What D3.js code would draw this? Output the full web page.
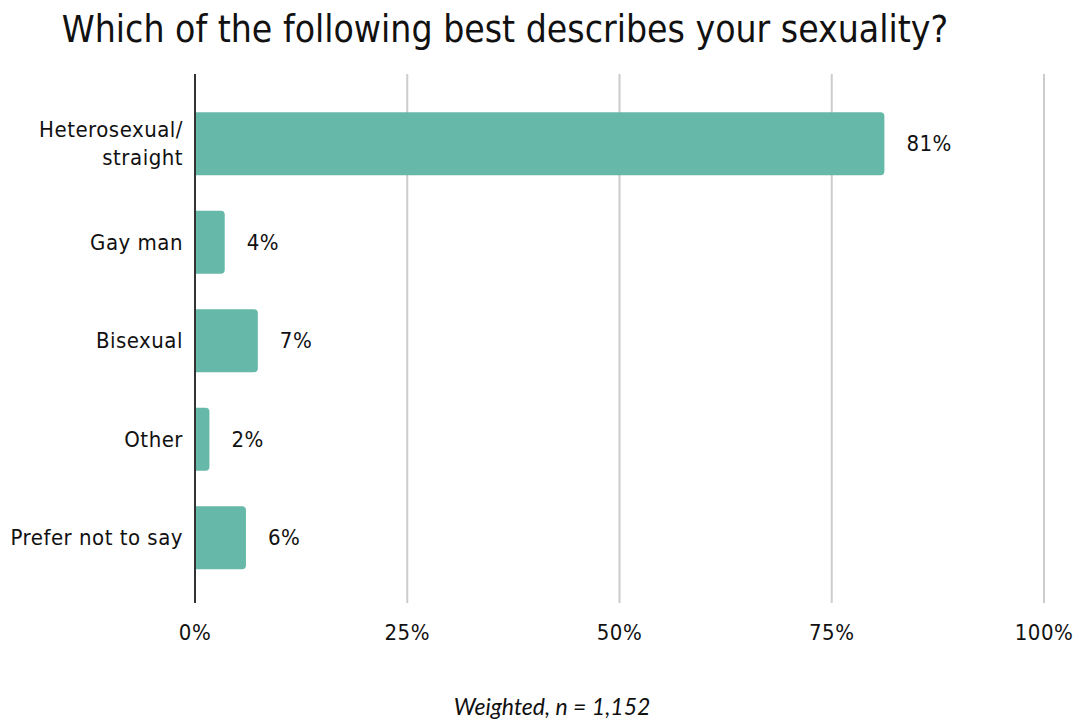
<!DOCTYPE html>
<html><head><meta charset="utf-8">
<script src="https://cdn.jsdelivr.net/npm/d3@7"></script>
<style>body{margin:0;background:#fff}</style>
</head><body>
<svg id="c" width="1076" height="721"></svg>
<script>
const categories = [["Heterosexual/","straight"],["Gay man"],["Bisexual"],["Other"],["Prefer not to say"]];
const values = [81.2, 3.5, 7.4, 1.7, 6.0];
const valueLabels = ["81%","4%","7%","2%","6%"];
const ticks = [0,25,50,75,100];
const tickLabels = ["0%","25%","50%","75%","100%"];

const svg = d3.select("#c");
const labFont = "'DejaVu Sans Condensed', 'DejaVu Sans', sans-serif";
const x = d3.scaleLinear().domain([0,100]).range([195,1044]);
const y = d3.scaleBand().domain(d3.range(categories.length)).range([94.5,587]).paddingInner(0.36).paddingOuter(0.18);

svg.append("text").attr("x",505).attr("y",42).attr("text-anchor","middle")
  .style("font-family",labFont).style("font-size","37px").attr("fill","#111")
  .text("Which of the following best describes your sexuality?");

svg.selectAll("line.g").data(ticks.slice(1)).join("line")
  .attr("x1",d=>x(d)).attr("x2",d=>x(d)).attr("y1",74).attr("y2",603)
  .attr("stroke","#cccccc").attr("stroke-width",2);

const r = 4;
svg.selectAll("path.bar").data(values).join("path")
  .attr("fill","#66b8a8")
  .attr("d",(d,i)=>{
    const x0=x(0), x1=x(d), y0=y(i), h=y.bandwidth();
    const rr=Math.min(r,(x1-x0));
    return `M${x0},${y0}H${x1-rr}Q${x1},${y0} ${x1},${y0+rr}V${y0+h-rr}Q${x1},${y0+h} ${x1-rr},${y0+h}H${x0}Z`;
  });

svg.append("line").attr("x1",x(0)).attr("x2",x(0)).attr("y1",74).attr("y2",603)
  .attr("stroke","#333").attr("stroke-width",2);

const txtStyle = sel => sel.style("font-family",labFont).style("font-size","22px")
  .style("letter-spacing","0.5px").attr("fill","#111");

svg.selectAll("text.v").data(values).join("text")
  .attr("x",d=>x(d)+22).attr("y",(d,i)=>y(i)+y.bandwidth()/2).attr("dy","0.35em")
  .call(txtStyle)
  .text((d,i)=>valueLabels[i]);

categories.forEach((lines,i)=>{
  const cy = y(i)+y.bandwidth()/2;
  const t = svg.append("text").attr("text-anchor","end").call(txtStyle);
  lines.forEach((l,j)=>{
    t.append("tspan").attr("x",183).attr("y",cy + (j-(lines.length-1)/2)*28).attr("dy","0.35em").text(l);
  });
});

svg.selectAll("text.t").data(ticks).join("text")
  .attr("x",d=>x(d)).attr("y",640).attr("text-anchor","middle")
  .call(txtStyle)
  .text((d,i)=>tickLabels[i]);

svg.append("text").attr("x",552).attr("y",715).attr("text-anchor","middle")
  .style("font-family","Lato, sans-serif").style("font-style","italic").style("font-size","23px").attr("fill","#111")
  .text("Weighted, n = 1,152");
</script>
</body></html>
